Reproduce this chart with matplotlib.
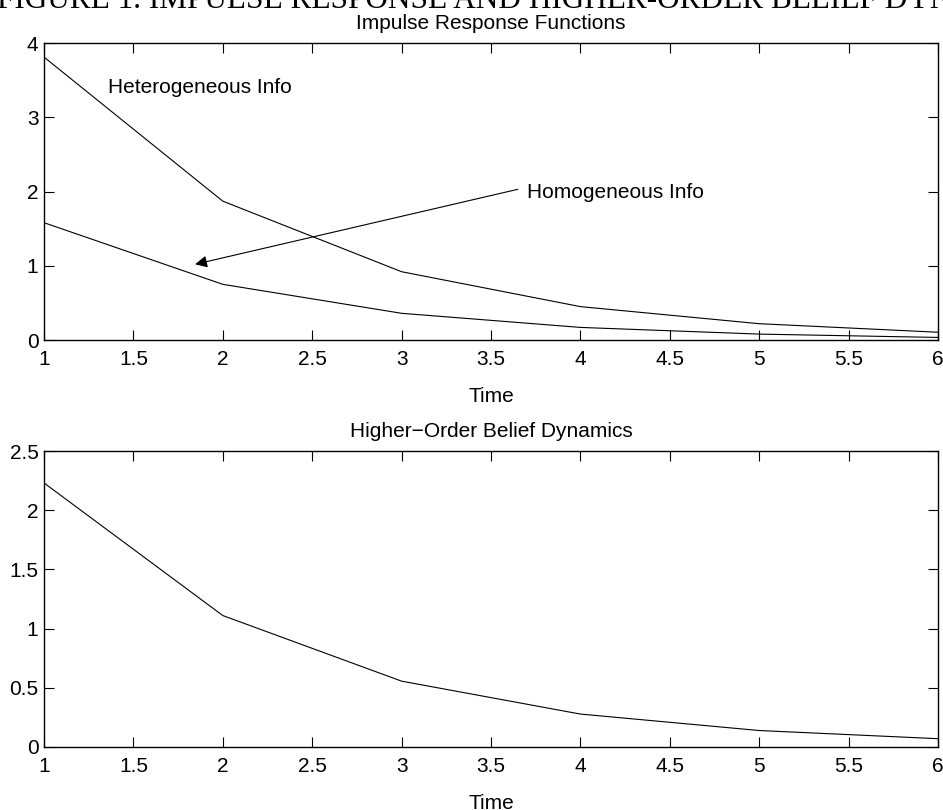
import matplotlib
matplotlib.use('Agg')
import matplotlib.pyplot as plt

plt.rcParams['font.family'] = ['Liberation Sans', 'DejaVu Sans']

# data
time = [1, 2, 3, 4, 5, 6]
hetero_info = [3.81, 1.87, 0.92, 0.45, 0.22, 0.105]
homo_info = [1.58, 0.75, 0.36, 0.17, 0.08, 0.035]
higher_order = [2.23, 1.11, 0.556, 0.278, 0.139, 0.07]

top_yticks = [0, 1, 2, 3, 4]
bottom_yticks = [0, 0.5, 1, 1.5, 2, 2.5]
xticks = [1, 1.5, 2, 2.5, 3, 3.5, 4, 4.5, 5, 5.5, 6]

fs = 15

fig = plt.figure(figsize=(9.43, 8.10), dpi=100)
ax1 = fig.add_axes([0.0467, 0.5802, 0.948, 0.3667])
ax2 = fig.add_axes([0.0467, 0.0778, 0.948, 0.3654])


def style_axis(ax, yticks):
    ax.set_xlim(1, 6)
    ax.set_ylim(yticks[0], yticks[-1])
    ax.set_xticks(xticks)
    ax.set_xticklabels(['%g' % t for t in xticks])
    ax.set_yticks(yticks)
    ax.set_yticklabels(['%g' % t for t in yticks])
    ax.tick_params(direction='in', top=True, right=True, length=7,
                   width=0.8, labelsize=fs)
    ax.tick_params(axis='x', pad=7)
    ax.tick_params(axis='y', pad=4)
    for s in ax.spines.values():
        s.set_linewidth(1.0)
    ax.set_xlabel('Time', fontsize=fs, labelpad=13)


ax1.plot(time, hetero_info, color='black', lw=0.8)
ax1.plot(time, homo_info, color='black', lw=0.8)
style_axis(ax1, top_yticks)
ax1.set_title('Impulse Response Functions', fontsize=fs, pad=10)
ax1.text(1.36, 3.4, 'Heterogeneous Info', fontsize=fs, va='center')
ax1.text(3.70, 1.99, 'Homogeneous Info', fontsize=fs, va='center')
ax1.annotate('', xy=(1.845, 1.02), xytext=(3.65, 2.03),
             arrowprops=dict(arrowstyle='-|>', color='black', lw=0.8,
                             mutation_scale=18, shrinkA=0, shrinkB=0))

ax2.plot(time, higher_order, color='black', lw=0.8)
style_axis(ax2, bottom_yticks)
ax2.set_title('Higher\u2212Order Belief Dynamics', fontsize=fs, pad=10)

# page caption cut off at the top edge
fig.text(-3 / 943, 1 - 8 / 810, 'FIGURE 1. IMPULSE RESPONSE AND HIGHER-ORDER BELIEF DYNAMICS',
         fontsize=22.5, family='Liberation Serif', ha='left', va='baseline')

fig.savefig('out.png', dpi=100)
